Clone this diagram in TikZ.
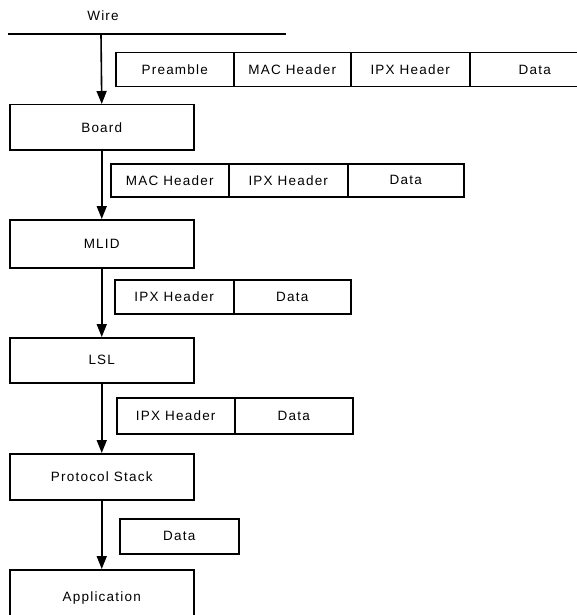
\documentclass[tikz,border=0pt]{standalone}
\usepackage{fontspec}
\setmainfont{Liberation Sans}[LetterSpace=9]
\usetikzlibrary{arrows.meta}
\begin{document}
\begin{tikzpicture}[x=1pt,y=-1pt,
  label font/.style={font=\fontsize{13.5}{15}\selectfont},
  layer/.style={draw, line width=1.5pt, inner sep=0pt, anchor=north west,
    minimum width=184pt, label font},
  cell/.style={draw, line width=1.5pt, inner sep=0pt, anchor=north west,
    label font},
  flow/.style={line width=1.6pt, -{Triangle[length=13pt,width=10pt]}}]
\useasboundingbox (0,0) rectangle (577,615);

% the wire and its label
\coordinate (wireL) at (8,34);
\coordinate (wireR) at (286,34);
\coordinate (tap) at (101,34);
\draw[line width=1.5pt] (wireL) -- (wireR);
\node[label font] (wire) at (103,16) {Wire};

% software layers, top to bottom
\node[layer, minimum height=45pt] (board) at (9,104) {Board};
\node[layer, minimum height=48pt] (mlid)  at (9,219) {MLID};
\node[layer, minimum height=45pt] (lsl)   at (9,337) {LSL};
\node[layer, minimum height=46pt] (stack) at (9,453) {Protocol Stack};
\node[layer, minimum height=56pt] (app)   at (9,569) {Application};

% data passed on
\draw[flow] (tap) -- (board.north);
\draw[flow] (board.south) -- (mlid.north);
\draw[flow] (mlid.south) -- (lsl.north);
\draw[flow] (lsl.south) -- (stack.north);
\draw[flow] (stack.south) -- (app.north);

% frame on the wire
\node[cell, minimum width=118pt, minimum height=34pt] (p1a) at (115,52) {Preamble};
\node[cell, minimum width=117pt, minimum height=34pt] (p1b) at (233,52) {MAC Header};
\node[cell, minimum width=119pt, minimum height=34pt] (p1c) at (350,52) {IPX Header};
\node[cell, minimum width=130pt, minimum height=34pt] (p1d) at (469,52) {Data};

% after the board
\node[cell, minimum width=118pt, minimum height=33pt] (p2a) at (110,163) {MAC Header};
\node[cell, minimum width=119pt, minimum height=33pt] (p2b) at (228,163) {IPX Header};
\node[cell, minimum width=116pt, minimum height=33pt] (p2c) at (347,163) {Data};

% after the MLID
\node[cell, minimum width=119pt, minimum height=34pt] (p3a) at (114,279) {IPX Header};
\node[cell, minimum width=117pt, minimum height=34pt] (p3b) at (233,279) {Data};

% after the LSL
\node[cell, minimum width=118pt, minimum height=36pt] (p4a) at (116,397) {IPX Header};
\node[cell, minimum width=118pt, minimum height=36pt] (p4b) at (234,397) {Data};

% after the protocol stack
\node[cell, minimum width=119pt, minimum height=35pt] (p5a) at (119,518) {Data};
\end{tikzpicture}
\end{document}
